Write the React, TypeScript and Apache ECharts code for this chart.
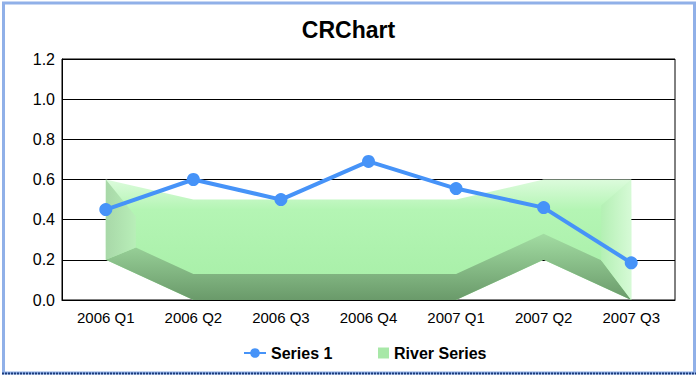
import React, { useEffect, useRef } from "react";
import * as echarts from "echarts";

const categories = ["2006 Q1", "2006 Q2", "2006 Q3", "2006 Q4", "2007 Q1", "2007 Q2", "2007 Q3"];
const series1 = [0.45, 0.6, 0.5, 0.69, 0.555, 0.46, 0.185];
const riverUpper = [0.6, 0.5, 0.5, 0.5, 0.5, 0.6, 0.6];
const riverLower = [0.2, 0, 0, 0, 0, 0.2, 0];
const yTicks = { min: 0, max: 1.2, interval: 0.2 };

const FONT = "'Liberation Sans', Arial, sans-serif";

function lerpAt(pts: number[][], x: number): number {
  for (let i = 0; i < pts.length - 1; i++) {
    const a = pts[i], b = pts[i + 1];
    if (x >= a[0] && x <= b[0]) {
      const t = (x - a[0]) / (b[0] - a[0] || 1);
      return a[1] + (b[1] - a[1]) * t;
    }
  }
  return pts[pts.length - 1][1];
}

export default function App() {
  const ref = useRef<HTMLDivElement>(null);
  useEffect(() => {
    if (!ref.current) return;
    const chart = echarts.init(ref.current, undefined, { renderer: "svg" });
    const renderRiver = (params: any, api: any) => {
      if (params.dataIndex !== 0) return null;
      const U = riverUpper.map((v, i) => api.coord([i, v]));
      const L = riverLower.map((v, i) => api.coord([i, v]));
      const n = U.length;
      const inX = 30;
      const depth = 26;
      const topIn = 30;
      const x0 = U[0][0] + inX;
      const xn = U[n - 1][0] - inX;
      const Ls = L.map((p) => [p[0], p[1] - depth]);
      const L0i = [x0, lerpAt(L, x0) - depth];
      const Lni = [xn, lerpAt(L, xn) - depth];
      const U0i = [x0, lerpAt(U, x0) + topIn];
      const Uni = [xn, lerpAt(U, xn) + topIn - 4];
      const innerLower: number[][] = [L0i];
      for (let i = 0; i < n; i++) {
        if (Ls[i][0] > x0 && Ls[i][0] < xn) innerLower.push(Ls[i]);
      }
      innerLower.push(Lni);
      const outer = [...U, ...L.slice().reverse()];
      const bottom = [...L, ...innerLower.slice().reverse()];
      const left = [U[0], U0i, L0i, L[0]];
      const right = [U[n - 1], Uni, Lni, L[n - 1]];
      const faceGrad = new echarts.graphic.LinearGradient(0, 0, 0, 1, [
        { offset: 0, color: "#dcfbdc" },
        { offset: 0.25, color: "#b4f5b4" },
        { offset: 1, color: "#a6eea6" },
      ]);
      const bottomGrad = new echarts.graphic.LinearGradient(0, 0, 0, 1, [
        { offset: 0, color: "#a2dca2" },
        { offset: 1, color: "#6a9a6a" },
      ]);
      const leftGrad = new echarts.graphic.LinearGradient(0, 0, 1, 0, [
        { offset: 0, color: "#a8d8a8" },
        { offset: 1, color: "#b8eeb8" },
      ]);
      const rightGrad = new echarts.graphic.LinearGradient(0, 0, 1, 0, [
        { offset: 0, color: "#b4f0b4" },
        { offset: 1, color: "#d6fad6" },
      ]);
      return {
        type: "group",
        children: [
          { type: "polygon", shape: { points: outer }, style: { fill: faceGrad } },
          { type: "polygon", shape: { points: bottom }, style: { fill: bottomGrad } },
          { type: "polygon", shape: { points: left }, style: { fill: leftGrad } },
          { type: "polygon", shape: { points: right }, style: { fill: rightGrad } },
        ],
      };
    };
    chart.setOption({
      animation: false,
      backgroundColor: "#ffffff",
      title: {
        text: "CRChart",
        left: "center",
        top: 13,
        textStyle: { fontSize: 23, fontWeight: "bold", color: "#000", fontFamily: FONT },
      },
      legend: [
        {
          data: ["Series 1"],
          left: 238,
          top: 340,
          itemWidth: 22,
          itemHeight: 12,
          textStyle: { fontSize: 16, fontWeight: "bold", color: "#000", fontFamily: FONT },
        },
        {
          data: [{ name: "River Series", icon: "rect", itemStyle: { color: "#a8e8a8" } }],
          left: 373,
          top: 340,
          itemWidth: 11,
          itemHeight: 11,
          textStyle: { fontSize: 16, fontWeight: "bold", color: "#000", fontFamily: FONT },
        },
      ],
      grid: {
        left: 62,
        right: 22,
        top: 59,
        bottom: 76,
        show: true,
        borderColor: "#000",
        borderWidth: 1,
      },
      xAxis: {
        type: "category",
        data: categories,
        boundaryGap: true,
        axisTick: { show: false },
        axisLine: { lineStyle: { color: "#000", width: 1 } },
        axisLabel: { color: "#000", fontSize: 15, fontFamily: FONT, margin: 10 },
        splitLine: { show: false },
      },
      yAxis: {
        type: "value",
        min: yTicks.min,
        max: yTicks.max,
        interval: yTicks.interval,
        axisLine: { show: true, lineStyle: { color: "#000", width: 1 } },
        axisTick: { show: false },
        axisLabel: {
          color: "#000",
          fontSize: 16,
          fontFamily: FONT,
          margin: 7,
          formatter: (v: number) => v.toFixed(1),
        },
        splitLine: { show: true, lineStyle: { color: "#000", width: 1 } },
      },
      series: [
        {
          name: "River Series",
          type: "custom",
          renderItem: renderRiver,
          data: riverUpper.map((v, i) => [i, v]),
          itemStyle: { color: "#a8e8a8" },
          z: 2,
        },
        {
          name: "Series 1",
          type: "line",
          data: series1,
          symbol: "circle",
          symbolSize: 13,
          lineStyle: { color: "#4693f8", width: 4 },
          itemStyle: { color: "#4693f8" },
          z: 5,
        },
      ],
      graphic: [
        {
          type: "rect",
          shape: { x: 3.5, y: 3, width: 691, height: 370 },
          style: { fill: "none", stroke: "#90b0e8", lineWidth: 3 },
          silent: true,
        },
        {
          type: "line",
          shape: { x1: 2, y1: 373.5, x2: 696, y2: 373.5 },
          style: { stroke: "#1c3c7c", lineWidth: 2, lineDash: [2, 1] },
          silent: true,
        },
      ],
    });
    return () => chart.dispose();
  }, []);
  return (
    <div
      ref={ref}
      style={{ position: "absolute", left: 0, top: 0, width: 697, height: 376 }}
    />
  );
}
